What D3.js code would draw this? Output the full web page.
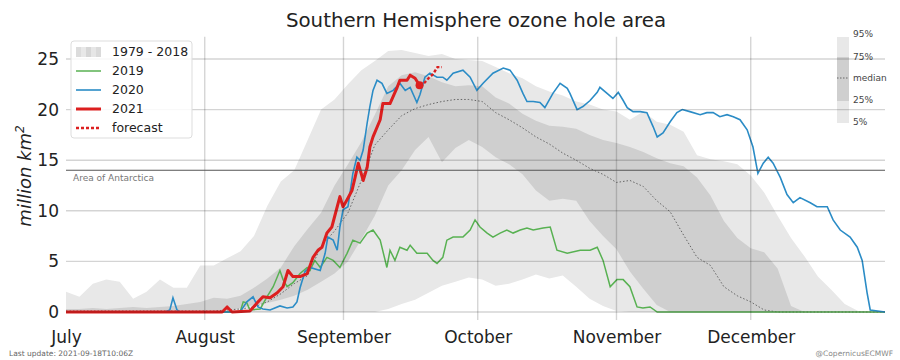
<!DOCTYPE html>
<html><head><meta charset="utf-8">
<script src="https://cdn.jsdelivr.net/npm/d3@7"></script>
<style>body{margin:0;background:#fff}svg{display:block;font-family:"DejaVu Sans",sans-serif}</style>
</head><body><svg id="c" width="900" height="360"></svg>
<script>
// ---- data (day index from 1 July) ----
const monthDays = [0,31,62,92,123,153];
const monthNames = ["July","August","September","October","November","December"];
const yTicks = [0,5,10,15,20,25];
const antarcticaArea = 14;

const bandDays = [0,3,6,9,12,15,18,21,24,27,30,33,36,39,42,45,48,51,54,57,60,63,66,69,72,75,78,81,84,87,90,93,96,99,102,105,108,111,114,117,120,123,126,129,132,135,138,141,144,147,150,153,156,159,162,165,168,171,174,177,180,183];
const p95 = [2.0,1.5,2.8,3.2,3.0,1.3,2.0,3.2,2.4,2.4, 4.6,4.6,5.3,6.0,7.5,10.5,12.9,14.0,17.0,20.0, 21.0,22.5,23.9,24.8,25.8,25.9,25.6,25.3,25.5,25.0, 24.9,24.8,24.2,23.6,23.1,22.3,21.8,21.4,20.8,20.5, 20.0,19.8,19.0,19.8,18.8,18.5,17.8,15.5,15.1,14.9, 14.6,13.5,11.8,9.5,7.3,5.5,3.5,2.2,0.8,0.1, 0,0];
const p75 = [0.3,0.3,0.4,0.3,0.4,0.5,0.4,0.5,0.6,0.8, 1.0,1.4,1.3,1.6,2.4,3.3,4.4,6.5,8.2,9.8, 12.5,14.6,16.8,19.5,22.3,23.4,23.7,23.3,22.7,22.3, 22.4,22.3,21.2,20.6,19.6,18.9,18.4,18.3,18.1,17.5, 17.0,16.7,16.3,15.8,15.2,14.7,14.4,13.3,11.5,9.0, 7.3,6.3,5.9,4.3,0.6,0,0,0,0,0, 0,0];
const p50 = [0.1,0.1,0.1,0.1,0.1,0.1,0.1,0.1,0.1,0.1, 0.1,0.1,0.2,0.3,0.5,1.0,1.8,2.8,3.6,6.5, 8.0,9.8,13.0,16.5,18.0,19.4,20.1,20.5,20.8,21.0, 21.0,20.8,19.7,19.0,18.2,17.3,16.6,15.7,15.0,14.2, 13.6,12.8,13.0,12.4,11.0,9.9,7.6,5.4,4.6,2.5, 1.6,1.0,0.2,0,0,0,0,0,0,0, 0,0];
const p25 = [0,0,0,0,0,0,0,0,0,0, 0,0,0,0.4,0.7,0.9,1.2,1.6,2.2,3.0, 3.8,5.0,7.2,9.5,12.5,14.0,16.0,17.3,14.8,16.2, 17.0,16.3,15.3,14.6,13.6,12.0,11.0,11.2,11.0,9.0, 7.5,6.2,4.0,2.3,0.7,0,0,0,0,0, 0,0,0,0,0,0,0,0,0,0, 0,0];
const p5 = [0,0,0,0,0,0,0,0,0,0, 0,0,0,0,0,0,0,0,0,0, 0,0,0,0,0.3,0.8,1.2,1.9,2.6,3.0, 3.4,3.2,2.6,2.8,3.2,3.7,3.3,3.6,2.5,1.3, 0.6,0.1,0,0,0,0,0,0,0,0, 0,0,0,0,0,0,0,0,0,0, 0,0];

const days2019 = [0,38.9,39.6,40.4,41.1,43.4,44.9,46.3,47.8,48.5,49.4,50.7,52.3,53.9,54.5,55.6,56.8,58.3,59.7,61.2,62.8,64.1,65.7,67.3,68.6,70.2,71.7,72.4,73.5,74.6,76.2,76.9,78.4,80.7,82.0,82.9,84.2,85.1,86.5,88.7,90.3,91.4,92.5,94.1,95.4,97.0,98.5,99.9,101.5,103.0,104.4,106.6,108.2,109.7,112.0,114.9,117.1,118.7,120.0,121.6,123.1,124.5,126.0,127.6,128.9,130.5,132.1,183];
const vals2019 = [0,0,1.0,0.9,0.2,0.3,1.5,2.5,4.1,3.2,2.5,2.9,3.8,4.4,4.1,5.1,4.4,5.4,5.1,4.4,5.8,7.1,6.8,7.8,8.1,7.1,4.4,6.1,5.1,6.4,6.1,6.6,5.8,5.8,5.1,4.8,5.4,7.1,7.4,7.4,8.1,9.1,8.4,7.8,7.4,7.8,8.1,7.8,8.1,8.3,8.1,8.3,8.4,6.1,5.8,6.1,6.1,6.4,5.1,2.5,3.2,3.2,2.5,0.5,0.4,0.5,0,0];

const days2020 = [0,22.1,23.2,23.9,24.8,25.5,38.9,40.4,41.8,42.9,44.0,45.6,47.8,49.4,50.7,51.6,52.3,53.4,54.5,56.8,57.9,58.5,59.7,60.6,61.2,61.9,63.0,64.1,65.0,65.7,66.4,67.3,67.9,68.6,69.5,70.6,71.7,73.1,74.6,75.8,76.9,78.4,79.1,80.2,81.3,82.9,84.2,85.1,86.5,88.7,90.3,91.8,93.2,95.4,97.7,99.2,100.8,102.1,103.0,104.4,105.9,107.0,108.8,110.4,112.0,112.6,114.2,115.5,117.1,118.7,119.3,120.9,122.2,123.4,124.5,125.4,126.7,128.3,129.8,131.2,132.1,133.4,135.0,136.5,137.7,139.4,141.7,143.2,144.6,146.1,147.7,149.1,150.6,152.2,153.5,154.6,155.8,156.9,158.0,159.6,161.1,162.5,164.0,166.3,167.8,170.1,171.4,173.0,175.2,176.8,177.9,179.0,179.7,183];
const vals2020 = [0,0,0.2,1.4,0.2,0,0,1.0,1.5,0.5,0.3,0.2,0.6,0.4,0.5,1.0,2.4,4.0,4.4,4.1,5.8,7.4,7.1,6.1,8.4,10.1,10.4,13.7,15.3,15.0,16.0,18.7,20.3,21.9,22.9,22.6,21.6,21.9,22.6,21.9,22.2,20.7,21.5,23.2,23.6,23.2,23.2,22.9,23.6,23.9,23.2,21.9,22.6,23.6,24.1,23.9,22.9,21.6,20.8,20.8,20.7,20.2,21.6,22.6,22.1,21.6,20.0,20.3,20.9,21.7,22.2,21.6,21.1,21.7,20.9,20.2,19.8,19.8,19.7,18.3,17.3,17.7,18.8,19.7,20.0,19.8,19.5,19.7,19.7,19.3,19.5,19.3,19.0,18.0,16.3,13.7,14.7,15.3,14.7,13.3,11.6,10.8,11.3,10.8,10.4,10.4,9.1,8.1,7.4,6.4,5.1,1.9,0.2,0];

const days2021 = [0,34.9,36.0,37.1,41.1,42.7,44.0,45.6,47.2,48.5,49.6,50.7,52.3,53.9,55.2,56.3,57.2,58.3,59.4,60.6,61.2,61.9,62.8,63.9,64.6,65.3,66.4,67.3,67.9,68.6,70.2,70.8,72.4,74.0,74.6,76.2,76.9,78.0,79];
const vals2021 = [0,0,0.5,0,0.1,0.9,1.5,1.4,1.9,2.5,4.1,3.5,3.5,3.8,5.4,6.1,6.4,7.8,8.4,10.4,11.4,10.4,11.1,12.0,13.3,14.7,13.0,14.3,16.3,17.3,19.0,20.6,20.6,22.2,22.9,22.9,23.4,23.1,22.4];

const daysForecast = [79,80,81,82,83,84];
const valsForecast = [22.4,22.6,23.1,23.5,24.2,24.2];

// ---- styles ----
const cLight = "#e8e8e8", cDark = "#cfcfcf";
const c2019 = "#58b152", c2020 = "#2b8cc6", c2021 = "#dc1f1f";

const svg = d3.select("#c");
const x = d3.scaleLinear().domain([0,183]).range([66,885]);
const y = d3.scaleLinear().domain([0,25]).range([312,59]);
const yTop = y(27.2), yBot = y(-0.8);

svg.append("defs").append("clipPath").attr("id","pc")
  .append("rect").attr("x",x(0)).attr("y",yTop).attr("width",x(183)-x(0)).attr("height",yBot-yTop);

const plot = svg.append("g").attr("clip-path","url(#pc)");
const bands = bandDays.map((d,i)=>({d, p5:p5[i], p25:p25[i], p50:p50[i], p75:p75[i], p95:p95[i]}));

plot.append("path").datum(bands).attr("fill",cLight)
  .attr("d", d3.area().x(d=>x(d.d)).y0(d=>y(d.p5)).y1(d=>y(d.p95)));
plot.append("path").datum(bands).attr("fill",cDark)
  .attr("d", d3.area().x(d=>x(d.d)).y0(d=>y(d.p25)).y1(d=>y(d.p75)));

// right percentile legend bar
const rl = svg.append("g");
const barX = 837, barW = 12;
rl.append("rect").attr("x",barX).attr("y",37).attr("width",barW).attr("height",86).attr("fill",cLight);
rl.append("rect").attr("x",barX).attr("y",57).attr("width",barW).attr("height",44).attr("fill",cDark);
rl.append("line").attr("x1",barX).attr("x2",barX+barW).attr("y1",78).attr("y2",78)
  .attr("stroke","#666").attr("stroke-width",1).attr("stroke-dasharray","1.5,1.5");
[["95%",34],["75%",57],["median",78],["25%",100],["5%",122]].forEach(([t,yy])=>{
  rl.append("text").attr("x",853).attr("y",yy).attr("dy","0.35em").attr("font-size",9).attr("fill","#444").text(t);
});

// grid
const grid = svg.append("g");
grid.selectAll(".hg").data(yTicks).join("line")
  .attr("x1",x(0)).attr("x2",x(183)).attr("y1",d=>y(d)).attr("y2",d=>y(d))
  .attr("stroke","rgba(0,0,0,0.17)").attr("stroke-width",1.4);
grid.selectAll(".vg").data(monthDays.slice(1)).join("line")
  .attr("x1",d=>x(d)).attr("x2",d=>x(d)).attr("y1",yTop).attr("y2",yBot)
  .attr("stroke","rgba(0,0,0,0.17)").attr("stroke-width",1.4);

// Antarctica line
svg.append("line").attr("x1",x(0)).attr("x2",x(183)).attr("y1",y(antarcticaArea)).attr("y2",y(antarcticaArea))
  .attr("stroke","#555").attr("stroke-width",1.1);
svg.append("text").attr("x",x(0)+7).attr("y",y(antarcticaArea)+11).attr("font-size",9).attr("fill","#777").text("Area of Antarctica");

// median
plot.append("path").datum(bands).attr("fill","none").attr("stroke","#666").attr("stroke-width",1)
  .attr("stroke-dasharray","1.5,2")
  .attr("d", d3.line().x(d=>x(d.d)).y(d=>y(d.p50)));

const line = d3.line().x(d=>x(d[0])).y(d=>y(d[1]));
const pts = (ds,vs)=>ds.map((d,i)=>[d,vs[i]]);
plot.append("path").datum(pts(days2019,vals2019)).attr("fill","none").attr("stroke",c2019).attr("stroke-width",1.5).attr("d",line);
plot.append("path").datum(pts(days2020,vals2020)).attr("fill","none").attr("stroke",c2020).attr("stroke-width",1.6).attr("d",line);
plot.append("path").datum(pts(daysForecast,valsForecast)).attr("fill","none").attr("stroke",c2021).attr("stroke-width",2.4).attr("stroke-dasharray","3,2").attr("d",line);
plot.append("path").datum(pts(days2021,vals2021)).attr("fill","none").attr("stroke",c2021).attr("stroke-width",3).attr("stroke-linejoin","round").attr("d",line);
const last = days2021.length-1;
plot.append("circle").attr("cx",x(days2021[last])).attr("cy",y(vals2021[last])).attr("r",4).attr("fill",c2021);

// axes
const xAxis = svg.append("g").attr("transform",`translate(0,${yBot})`)
  .call(d3.axisBottom(x).tickValues(monthDays).tickFormat((d,i)=>monthNames[i]).tickSize(0).tickPadding(11));
const yAxis = svg.append("g").attr("transform",`translate(${x(0)},0)`)
  .call(d3.axisLeft(y).tickValues(yTicks).tickSize(0).tickPadding(7));
[xAxis,yAxis].forEach(a=>{
  a.select(".domain").remove();
  a.selectAll("text").attr("font-size",17).attr("fill","#222").attr("font-family","DejaVu Sans, sans-serif");
});

// y label
const yl = svg.append("text").attr("transform","translate(31,176) rotate(-90)").attr("text-anchor","middle")
  .attr("font-size",18).attr("font-style","italic").attr("fill","#222");
yl.append("tspan").text("million km");
yl.append("tspan").attr("font-size",12).attr("dy",-7).text("2");

// title
svg.append("text").attr("x",476).attr("y",27).attr("text-anchor","middle").attr("font-size",19.8).attr("fill","#222")
  .text("Southern Hemisphere ozone hole area");

// legend
const lg = svg.append("g");
lg.append("rect").attr("x",71).attr("y",41).attr("width",121).attr("height",97).attr("rx",3)
  .attr("fill","rgba(255,255,255,0.85)").attr("stroke","#ddd");
const stripe = ["#dcdcdc","#e8e8e8","#d6d6d6","#e6e6e6","#dadada"];
stripe.forEach((c,i)=>lg.append("rect").attr("x",76+i*5).attr("y",47).attr("width",5).attr("height",10).attr("fill",c));
const items = [
  {t:"1979 - 2018", yy:52},
  {t:"2019", yy:71, c:c2019, w:1.5},
  {t:"2020", yy:90, c:c2020, w:1.6},
  {t:"2021", yy:109, c:c2021, w:3},
  {t:"forecast", yy:128, c:c2021, w:2.4, dash:"3,2"}
];
items.forEach(it=>{
  if (it.c) lg.append("line").attr("x1",76).attr("x2",101).attr("y1",it.yy).attr("y2",it.yy)
    .attr("stroke",it.c).attr("stroke-width",it.w).attr("stroke-dasharray",it.dash||null);
  lg.append("text").attr("x",112).attr("y",it.yy).attr("dy","0.35em").attr("font-size",12.5).attr("fill","#222").text(it.t);
});

// footer
svg.append("text").attr("x",9).attr("y",356).attr("font-size",7.5).attr("fill","#666").text("Last update: 2021-09-18T10:06Z");
svg.append("text").attr("x",893).attr("y",356).attr("text-anchor","end").attr("font-size",7.5).attr("fill","#888").text("@CopernicusECMWF");
</script></body></html>
